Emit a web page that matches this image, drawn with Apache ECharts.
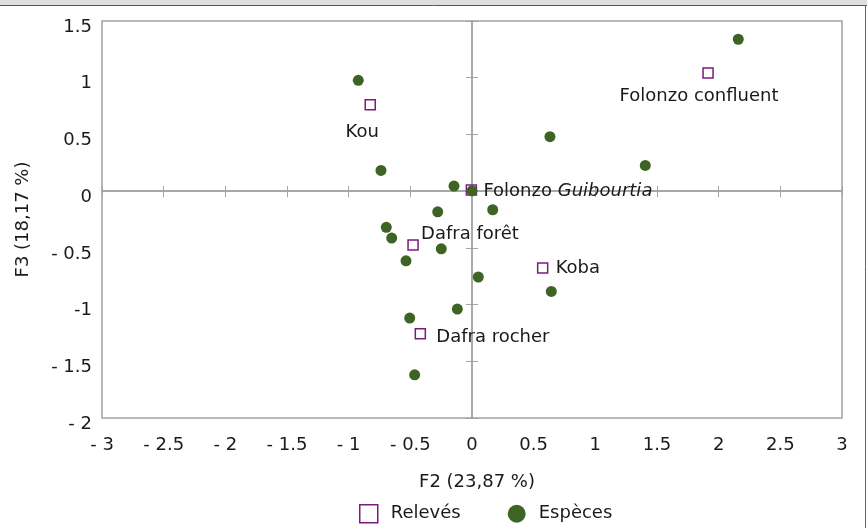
<!DOCTYPE html>
<html>
<head>
<meta charset="utf-8">
<script src="https://cdn.jsdelivr.net/npm/echarts@6/dist/echarts.min.js"></script>
<style>
html,body{margin:0;padding:0;background:#fff;}
#chart{width:867px;height:528px;}
</style>
</head>
<body>
<div id="chart"></div>
<script>
// ---- Data ----
var releveNames = ['Kou', 'Folonzo confluent', 'Folonzo Guibourtia', 'Dafra forêt', 'Dafra rocher', 'Koba'];
var releveX = [-0.825, 1.914, -0.005, -0.478, -0.419, 0.573];
var releveY = [0.762, 1.041, 0.010, -0.475, -1.257, -0.678];

var especeX = [-0.922, -0.738, -0.146, 0.000, -0.278, 0.168, -0.695, -0.651, -0.249, -0.535, 0.051, -0.119, -0.505, -0.465, 0.632, 1.405, 0.643, 2.159];
var especeY = [0.977, 0.183, 0.045, 0.003, -0.182, -0.164, -0.319, -0.414, -0.508, -0.614, -0.757, -1.040, -1.119, -1.619, 0.480, 0.227, -0.884, 1.339];

var xTickLabels = ['- 3', '- 2.5', '- 2', '- 1.5', '- 1', '- 0.5', '0', '0.5', '1', '1.5', '2', '2.5', '3'];
var yTickLabels = ['- 2', '- 1.5', '-1', '- 0.5', '0', '0.5', '1', '1.5'];

var xName = 'F2 (23,87 %)';
var yName = 'F3 (18,17 %)';
var seriesNames = ['Relevés', 'Espèces'];

// ---- Styles ----
var FONT = 'DejaVu Sans';
var TXT = '#1a1a1a';
var AX = '#a3a3a3';
var PURPLE = '#7d1a7d';
var GREEN = '#3d6424';

var labelPlace = {
  'Kou': {align: 'center', offset: [-8, 28]},
  'Folonzo confluent': {align: 'center', offset: [-9, 23]},
  'Folonzo Guibourtia': {align: 'left', offset: [12, 1]},
  'Dafra forêt': {align: 'left', offset: [8, -11]},
  'Dafra rocher': {align: 'left', offset: [16, 4]},
  'Koba': {align: 'left', offset: [13, 0]}
};

var releveData = releveNames.map(function (n, i) {
  var p = labelPlace[n];
  return {
    name: n,
    value: [releveX[i], releveY[i]],
    label: {show: true, position: 'inside', align: p.align, verticalAlign: 'middle', offset: p.offset}
  };
});
var especeData = especeX.map(function (x, i) { return [x, especeY[i]]; });

function xFmt(v) { var k = Math.round((v + 3) / 0.5); return xTickLabels[k] || ''; }
function yFmt(v) { var k = Math.round((v + 2) / 0.5); return '{a|' + (yTickLabels[k] || '') + '}'; }

var chart = echarts.init(document.getElementById('chart'), null, {renderer: 'canvas'});

var zeroX = function (inside, len) {
  return {
    type: 'value', min: -3, max: 3, interval: 0.5,
    axisLine: {show: true, onZero: true, onZeroAxisIndex: 0, lineStyle: {color: AX, width: 1.5}},
    axisTick: {show: true, inside: inside, length: len, lineStyle: {color: AX, width: 1}},
    axisLabel: {show: false}, splitLine: {show: false}
  };
};
var zeroY = function (inside, len) {
  return {
    type: 'value', min: -2, max: 1.5, interval: 0.5,
    axisLine: {show: true, onZero: true, onZeroAxisIndex: 0, lineStyle: {color: AX, width: 1.5}},
    axisTick: {show: true, inside: inside, length: len, lineStyle: {color: AX, width: 1}},
    axisLabel: {show: false}, splitLine: {show: false}
  };
};

chart.setOption({
  animation: false,
  backgroundColor: '#fff',
  textStyle: {fontFamily: FONT},
  grid: {left: 102, right: 25, top: 21, bottom: 110, show: true, borderColor: AX, borderWidth: 1.5, backgroundColor: 'transparent'},
  xAxis: [
    {
      type: 'value', min: -3, max: 3, interval: 0.5, position: 'bottom',
      axisLine: {show: false, onZero: false}, axisTick: {show: false}, splitLine: {show: false},
      axisLabel: {formatter: xFmt, fontFamily: FONT, fontSize: 18, color: TXT, margin: 18},
      name: xName, nameLocation: 'middle', nameGap: 55,
      nameTextStyle: {fontFamily: FONT, fontSize: 18, color: TXT, padding: [0, 0, 0, 10]}
    },
    zeroX(true, 6),
    zeroX(false, 5)
  ],
  yAxis: [
    {
      type: 'value', min: -2, max: 1.5, interval: 0.5, position: 'left',
      axisLine: {show: false, onZero: false}, axisTick: {show: false}, splitLine: {show: false},
      axisLabel: {
        formatter: yFmt, fontFamily: FONT, fontSize: 18, color: TXT, margin: 10,
        rich: {a: {fontFamily: FONT, fontSize: 18, color: TXT, padding: [12, 0, 0, 0]}}
      },
      name: yName, nameLocation: 'middle', nameGap: 70, nameRotate: 90,
      nameTextStyle: {fontFamily: FONT, fontSize: 18, color: TXT}
    },
    zeroY(true, 6),
    zeroY(false, 6)
  ],
  legend: {
    left: 354, top: 499, itemWidth: 18, itemHeight: 18, itemGap: 47,
    textStyle: {fontFamily: FONT, fontSize: 18, color: TXT, padding: [0, 0, 0, 8]},
    data: [
      {name: seriesNames[0], icon: 'rect', itemStyle: {color: '#fff', borderColor: PURPLE, borderWidth: 1.5}},
      {name: seriesNames[1], icon: 'circle', itemStyle: {color: GREEN}}
    ]
  },
  series: [
    {
      name: seriesNames[0], type: 'scatter', xAxisIndex: 0, yAxisIndex: 0,
      symbol: 'rect', symbolSize: 10,
      itemStyle: {color: '#fff', borderColor: PURPLE, borderWidth: 1.5, opacity: 1},
      label: {
        show: true, fontFamily: FONT, fontSize: 18, color: TXT,
        formatter: function (p) {
          var n = p.name;
          if (n.indexOf('Guibourtia') >= 0) {
            return '{n|' + n.replace(' Guibourtia', ' ') + '}{i|Guibourtia}';
          }
          return n;
        },
        rich: {
          n: {fontFamily: FONT, fontSize: 18, color: TXT},
          i: {fontFamily: FONT, fontSize: 18, color: TXT, fontStyle: 'italic'}
        }
      },
      emphasis: {disabled: true},
      data: releveData,
      z: 3
    },
    {
      name: seriesNames[1], type: 'scatter', xAxisIndex: 0, yAxisIndex: 0,
      symbol: 'circle', symbolSize: 11,
      itemStyle: {color: GREEN, opacity: 1},
      emphasis: {disabled: true},
      data: especeData,
      z: 4
    }
  ],
  graphic: [
    {type: 'rect', shape: {x: 0, y: 0, width: 867, height: 5}, style: {fill: '#dedede'}, silent: true},
    {type: 'line', shape: {x1: 0, y1: 5.5, x2: 867, y2: 5.5}, style: {stroke: '#555', lineWidth: 1}, silent: true},
    {type: 'line', shape: {x1: 865.5, y1: 5, x2: 865.5, y2: 528}, style: {stroke: '#666', lineWidth: 1}, silent: true}
  ]
});
</script>
</body>
</html>
